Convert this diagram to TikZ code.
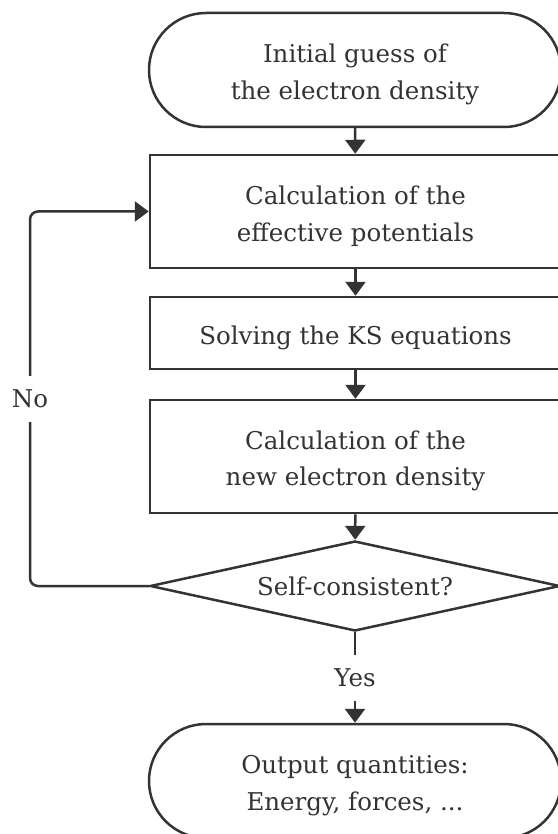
\documentclass[tikz,border=0pt]{standalone}
\usepackage{fontspec}
\setmainfont{DejaVu Serif}
\usetikzlibrary{shapes.misc,shapes.geometric,arrows.meta}
\definecolor{ink}{HTML}{333333}
\newcommand{\tallstrut}{\rule{0pt}{27.5pt}}
\begin{document}
\begin{tikzpicture}[x=1pt,y=-1pt,
  every node/.style={text=ink,font=\fontsize{24.5}{36.6}\selectfont,align=center},
  term/.style={draw=ink,line width=2.5pt,rounded rectangle,minimum width=412pt,minimum height=114pt,inner sep=0pt},
  procbox/.style={draw=ink,line width=2.5pt,rectangle,minimum width=411pt,inner sep=0pt},
  decide/.style={draw=ink,line width=2.5pt,diamond,aspect=4.5,minimum width=410pt,minimum height=90pt,inner sep=0pt},
  flow/.style={draw=ink,line width=2.5pt,-{Triangle[width=20pt,length=14pt]}},
  plain/.style={draw=ink,line width=2.5pt},
  lbl/.style={inner sep=0pt,minimum height=46pt}
]
\useasboundingbox (0,0) rectangle (557,834);
\node[term] (start) at (355,70) {\tallstrut Initial guess of\\the electron density};
\node[procbox,minimum height=113pt] (calc1) at (355.5,211.5) {\tallstrut Calculation of the\\effective potentials};
\node[procbox,minimum height=72pt] (ks) at (355.5,333) {\tallstrut Solving the KS equations};
\node[procbox,minimum height=113pt] (calc2) at (355.5,456.5) {\tallstrut Calculation of the\\new electron density};
\node[decide] (dec) at (355,586) {Self-consistent?};
\node[lbl] (yes) at (355,678) {Yes};
\node[term] (end) at (355,781) {\tallstrut Output quantities:\\Energy, forces, ...};
\node[lbl] (no) at (30,399) {No};
\draw[flow] (start) -- (calc1);
\draw[flow] (calc1) -- (ks);
\draw[flow] (ks) -- (calc2);
\draw[flow] (calc2) -- (dec);
\draw[plain] (dec.south) -- (yes);
\draw[flow] (yes) -- (end);
\draw[plain,rounded corners=8pt] (dec.west) -| (no.south);
\draw[flow,rounded corners=8pt] (no.north) |- (calc1.west);
\end{tikzpicture}
\end{document}
